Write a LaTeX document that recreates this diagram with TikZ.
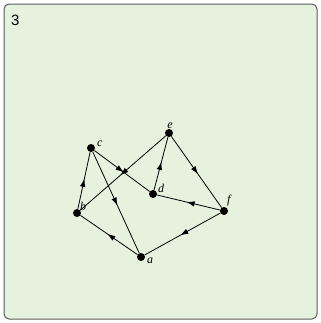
\documentclass[tikz,border=0pt]{standalone}
\usepackage{fontspec}
\setmainfont{Liberation Serif}
\setsansfont{Liberation Sans}
\usetikzlibrary{arrows.meta, decorations.markings, calc}

\definecolor{panelgreen}{HTML}{E6F1DE}
\definecolor{panelgray}{HTML}{5A5A5A}

\begin{document}
\begin{tikzpicture}[
    x=1bp, y=-1bp,
    vertex/.style = {circle, fill=black, inner sep=0pt, minimum size=8bp},
    lbl/.style = {font=\fontsize{12}{13}\selectfont\itshape, inner sep=1pt},
    arc/.style = {draw, line width=0.8bp, postaction={decorate},
        decoration={markings, mark=at position 0.53 with {\arrow{Latex[length=8bp,width=5.5bp]}}}},
]

% Panel
\useasboundingbox (0,0) rectangle (321,323);
\draw[panelgray, fill=panelgreen, line width=1bp, rounded corners=5bp] (4,4) rectangle (317,319);
\node[font=\sffamily\fontsize{15}{16}\selectfont, anchor=north west, inner sep=0pt] (num) at (11,15) {3};

% Vertices
\node [vertex] (a) at (141,257) {};
\node [vertex] (b) at (77,213) {};
\node [vertex] (c) at (91,148) {};
\node [vertex] (d) at (153,194) {};
\node [vertex] (e) at (169,133) {};
\node [vertex] (f) at (224,211) {};

% Labels
\node [lbl, anchor=west] at ($(a)+(5,4)$) {a};
\node [lbl, anchor=west] at ($(b)+(2,-7)$) {b};
\node [lbl, anchor=west] at ($(c)+(5,-4)$) {c};
\node [lbl, anchor=west] at ($(d)+(4,-6)$) {d};
\node [lbl, anchor=south] at ($(e)+(1,-3)$) {e};
\node [lbl, anchor=west] at ($(f)+(2,-10)$) {f};

% Arcs
\path [arc] (a) -- (b);
\path [arc] (b) -- (c);
\path [arc] (c) -- (a);
\path [arc] (c) -- (d);
\path [arc] (e) -- (b);
\path [arc] (d) -- (e);
\path [arc] (e) -- (f);
\path [arc] (f) -- (d);
\path [arc] (f) -- (a);

\end{tikzpicture}
\end{document}
